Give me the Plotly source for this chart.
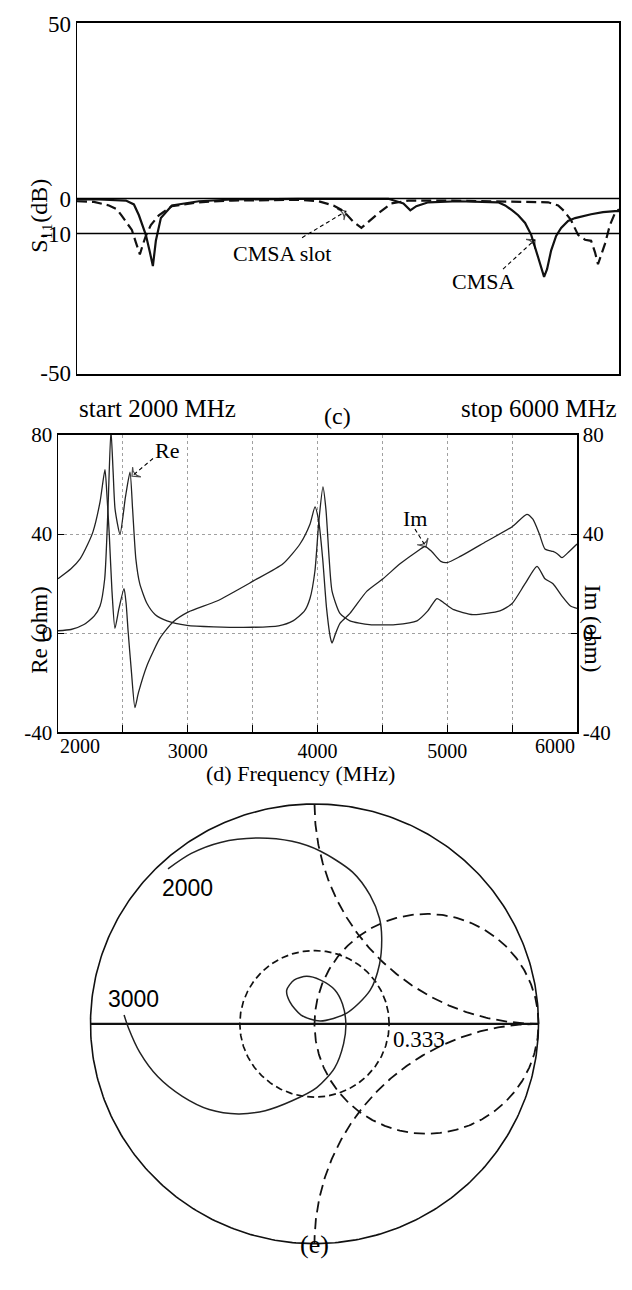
import numpy as np
import plotly.graph_objects as go

W, H = 632, 1290
SERIF = "Liberation Serif"
SANS = "Liberation Sans"

# ---------------- Panel (c): S11 (dB) vs frequency ----------------
cmsa_freq = [2000, 2162, 2361, 2420, 2457, 2508, 2538, 2560, 2582, 2619, 2700, 2899, 3142,
             3635, 4298, 4335, 4409, 4460, 4504, 4593, 4814, 5108, 5160, 5212, 5256, 5307,
             5352, 5403, 5447, 5469, 5499, 5536, 5573, 5624, 5676, 5794, 5882, 5970, 6000]
cmsa_db = [-0.3, -0.3, -0.6, -1.7, -4.8, -10.4, -15.4, -19.3, -12.1, -5.6, -2.0, -0.8, -0.3,
           -0.1, -0.1, -0.6, -1.4, -3.4, -2.2, -1.1, -0.8, -1.1, -2.0, -3.4, -4.8, -7.0,
           -10.4, -16.8, -22.4, -20.2, -14.9, -10.7, -8.4, -6.4, -5.6, -4.5, -3.9, -3.6, -3.6]

slot_freq = [2000, 2125, 2236, 2295, 2331, 2368, 2405, 2435, 2464, 2486, 2508, 2545, 2604,
             2700, 2899, 3142, 3635, 3783, 3893, 3967, 4040, 4099, 4151, 4225, 4320, 4445,
             4740, 5108, 5477, 5551, 5595, 5646, 5698, 5749, 5794, 5823, 5845, 5875, 5897,
             5933, 5970, 6000]
slot_db = [-0.8, -1.0, -2.0, -3.1, -5.0, -7.0, -9.0, -12.6, -16.0, -13.2, -10.7, -7.6, -4.8,
           -2.2, -1.1, -0.6, -0.4, -0.8, -2.0, -3.6, -6.7, -8.4, -6.7, -4.2, -1.4, -0.6,
           -0.6, -0.8, -1.1, -2.0, -3.6, -6.2, -10.4, -11.8, -12.1, -15.4, -18.8, -15.4, -12.9,
           -7.6, -4.2, -3.1]

s11_ticks = [50, 0, -10, -50]
s11_ticktext = ["50", "0", "-10", "-50"]
s11_ref_levels = [0, -10]

# ---------------- Panel (d): input impedance ----------------
re_freq = [2000, 2100, 2200, 2280, 2324, 2360, 2385, 2408, 2425, 2440, 2478, 2520, 2555,
           2575, 2600, 2630, 2686, 2750, 2840, 2994, 3200, 3500, 3700, 3811, 3900, 3942,
           3980, 4010, 4042, 4065, 4090, 4112, 4173, 4250, 4400, 4600, 4767, 4850, 4921,
           4980, 5050, 5198, 5406, 5500, 5600, 5692, 5753, 5815, 5884, 5950, 6000]
re_ohm = [1.0, 1.5, 3.5, 7, 11, 22, 50, 82, 65, 50, 40, 55, 65,
          50, 30, 20, 12, 7.5, 5, 3.2, 2.6, 2.4, 3, 5, 9, 14,
          25, 45, 59, 50, 30, 17, 8, 5, 3.5, 3.5, 5, 9, 14,
          12, 9.5, 7.5, 9, 12, 20, 27, 22, 20, 15, 11, 10]

im_freq = [2000, 2100, 2170, 2230, 2270, 2324, 2362, 2378, 2395, 2416, 2439, 2470, 2509,
           2525, 2540, 2565, 2593, 2620, 2686, 2786, 2886, 3002, 3225, 3503, 3734, 3865,
           3942, 3981, 4010, 4040, 4070, 4100, 4112, 4140, 4173, 4250, 4381, 4505, 4636,
           4767, 4828, 4880, 4950, 4998, 5100, 5300, 5500, 5614, 5660, 5710, 5753, 5815,
           5850, 5884, 5940, 6000]
im_ohm = [22, 26, 30, 36, 41, 53, 66, 55, 40, 17, 2, 10, 18,
          12, 1, -15, -30, -24, -13, -2, 4.5, 8.5, 13, 21, 28, 36,
          44, 51, 45, 30, 10, -2, -4, 0, 4, 8, 17, 22, 28,
          33, 35, 33, 29, 28.5, 31, 37, 43, 48, 46, 40, 34, 33,
          32, 30.5, 33, 36]

z_ticks = [-40, 0, 40, 80]
z_ticktext = ["-40", "0", "40", "80"]
f_major_ticks = [3000, 4000, 5000]
f_edge_labels = [2000, 6000]

# ---------------- Panel (e): Smith chart locus (reflection coefficient) ----------------
smith_re = [-0.654, -0.55, -0.42, -0.26, -0.10, 0.025, 0.17, 0.248, 0.29, 0.30, 0.29, 0.248,
            0.144, 0.025, -0.06, -0.11, -0.124, -0.09, -0.035, 0.025, 0.09, 0.125, 0.14,
            0.13, 0.09, 0.01, -0.10, -0.22, -0.34, -0.47, -0.59, -0.70, -0.78, -0.83, -0.85]
smith_im = [0.705, 0.775, 0.825, 0.845, 0.83, 0.786, 0.69, 0.585, 0.48, 0.393, 0.27, 0.152,
            0.049, 0.013, 0.04, 0.10, 0.153, 0.20, 0.216, 0.2, 0.155, 0.09, 0.0,
            -0.09, -0.20, -0.29, -0.35, -0.395, -0.41, -0.39, -0.33, -0.24, -0.13, -0.02, 0.04]
vswr_circle_label = "0.333"
vswr_radius = 1 / 3

fig = go.Figure()

# Panel (c) traces
fig.add_trace(go.Scatter(x=cmsa_freq, y=cmsa_db, mode="lines", xaxis="x", yaxis="y",
                         line=dict(color="#111", width=2.2), showlegend=False))
fig.add_trace(go.Scatter(x=slot_freq, y=slot_db, mode="lines", xaxis="x", yaxis="y",
                         line=dict(color="#111", width=2.2, dash="10px,5px"), showlegend=False))

# Panel (d) traces
fig.add_trace(go.Scatter(x=re_freq, y=re_ohm, mode="lines", xaxis="x2", yaxis="y2",
                         line=dict(color="#222", width=1.3, shape="spline", smoothing=0.6),
                         showlegend=False))
fig.add_trace(go.Scatter(x=im_freq, y=im_ohm, mode="lines", xaxis="x2", yaxis="y3",
                         line=dict(color="#222", width=1.3, shape="spline", smoothing=0.6),
                         showlegend=False))

# Panel (e) Smith chart grid (structure of the chart)
t = np.linspace(0, 2 * np.pi, 400)
def add_grid(x, y, dash=None, width=1.6):
    fig.add_trace(go.Scatter(x=x, y=y, mode="lines", xaxis="x4", yaxis="y4",
                             line=dict(color="#111", width=width, dash=dash),
                             showlegend=False, hoverinfo="skip"))
add_grid(np.cos(t), np.sin(t), None, 1.6)                                  # |Gamma| = 1
add_grid([-1, 1], [0, 0], None, 2.2)                                        # real axis
add_grid(0.5 + 0.5 * np.cos(t), 0.5 * np.sin(t), "11px,6px", 1.8)          # r = 1
ta = np.linspace(np.pi, 1.5 * np.pi, 200)
add_grid(1 + np.cos(ta), 1 + np.sin(ta), "11px,6px", 1.8)                  # x = +1
tb = np.linspace(0.5 * np.pi, np.pi, 200)
add_grid(1 + np.cos(tb), -1 + np.sin(tb), "11px,6px", 1.8)                 # x = -1
add_grid(vswr_radius * np.cos(t), vswr_radius * np.sin(t), "7px,4px", 1.7)  # |Gamma| = 1/3

fig.add_trace(go.Scatter(x=smith_re, y=smith_im, mode="lines", xaxis="x4", yaxis="y4",
                         line=dict(color="#222", width=1.5, shape="spline", smoothing=0.8),
                         showlegend=False))

# Dashed callout arrows (tail -> head), drawn as traces with an arrow marker at the head
def dashed_arrow(xa, ya, tail, head):
    fig.add_trace(go.Scatter(
        x=[tail[0], head[0]], y=[tail[1], head[1]], mode="lines+markers",
        xaxis=xa, yaxis=ya, showlegend=False, hoverinfo="skip",
        line=dict(color="black", width=1.1, dash="4px,3px"),
        marker=dict(symbol="arrow-wide-open", size=[0, 9], angleref="previous",
                    color="black", line=dict(color="black", width=1.2))))

dashed_arrow("x", "y", (3661, -11.2), (3985, -3.65))
dashed_arrow("x", "y", (5144, -20.2), (5380, -11.8))
dashed_arrow("x2", "y2", (2732, 70.5), (2570, 63.4))
dashed_arrow("x2", "y2", (4751, 42.0), (4836, 34.9))

# ---------------- Layout ----------------
def px(x):
    return x / W
def py(y):
    return 1 - y / H

axis_line = dict(showline=True, linecolor="black", linewidth=1.5, zeroline=False)
grid_style = dict(showgrid=True, gridcolor="#a0a0a0", griddash="dot", gridwidth=1)
hidden_axis = dict(showline=False, showgrid=False, zeroline=False, ticks="",
                   showticklabels=False)

# Smith chart square domain
cx, cy, rpx = 314.5, 1031.0, 224.0
rr = 1.01
half = rpx * rr

fig.update_layout(
    width=W, height=H,
    margin=dict(l=0, r=0, t=0, b=0),
    paper_bgcolor="white", plot_bgcolor="white",
    font=dict(family=SERIF, color="black", size=22),
    xaxis=dict(domain=[px(77), px(619)], range=[2000, 6000], anchor="y",
               showticklabels=False, ticks="", showgrid=False, mirror=True, **axis_line),
    yaxis=dict(domain=[py(369), py(11)], range=[-50.2, 50.2], anchor="x",
               tickvals=s11_ticks, ticktext=s11_ticktext,
               ticks="", showgrid=False, mirror=True, tickfont=dict(size=23),
               **axis_line),
    xaxis2=dict(domain=[px(58), px(577)], range=[2000, 6000], anchor="y2",
                tickvals=f_major_ticks, ticktext=[str(v) for v in f_major_ticks],
                ticks="inside", ticklen=7, tickcolor="black", mirror=True,
                tickfont=dict(size=20),
                minor=dict(tick0=2000, dtick=500, ticks="inside", ticklen=7,
                           tickcolor="black", **grid_style),
                **grid_style, **axis_line),
    yaxis2=dict(domain=[py(734), py(431)], range=[-40, 80], anchor="x2",
                tickvals=z_ticks, ticktext=z_ticktext, ticks="inside", ticklen=6,
                tickcolor="black", tickfont=dict(size=21), **grid_style, **axis_line),
    yaxis3=dict(overlaying="y2", side="right", range=[-40, 80], anchor="x2",
                tickvals=z_ticks, ticktext=z_ticktext, ticks="inside", ticklen=6,
                tickcolor="black", showgrid=False, tickfont=dict(size=21), **axis_line),
    xaxis4=dict(domain=[px(cx - half), px(cx + half)], range=[-rr, rr], anchor="y4",
                **hidden_axis),
    yaxis4=dict(domain=[py(cy + half), py(cy - half)], range=[-rr, rr], anchor="x4",
                **hidden_axis),
)

# Reference lines at 0 and -10 dB
for lvl in s11_ref_levels:
    fig.add_shape(type="line", xref="x domain", yref="y", x0=0, x1=1, y0=lvl, y1=lvl,
                  line=dict(color="black", width=1.6))

ann = []
# Panel (c) texts
ann.append(dict(text="S\u2081\u2081(dB)", x=px(24), y=py(168), xref="paper", yref="paper",
                textangle=-90, font=dict(size=24), showarrow=False))
ann.append(dict(text="start 2000 MHz", x=px(77), y=py(388), xref="paper", yref="paper",
                xanchor="left", font=dict(size=25), showarrow=False))
ann.append(dict(text="(c)", x=px(337), y=py(396), xref="paper", yref="paper",
                font=dict(size=24), showarrow=False))
ann.append(dict(text="stop 6000 MHz", x=px(619), y=py(388), xref="paper", yref="paper",
                xanchor="right", font=dict(size=25), showarrow=False))
ann.append(dict(text="CMSA slot", x=3513, y=-15.6, xref="x", yref="y",
                font=dict(size=22), showarrow=False))
ann.append(dict(text="CMSA", x=4993, y=-23.8, xref="x", yref="y",
                font=dict(size=22), showarrow=False))
# Panel (d) texts
ann.append(dict(text="Re (ohm)", x=px(25), y=py(630), xref="paper", yref="paper",
                textangle=-90, font=dict(size=23), showarrow=False))
ann.append(dict(text="Im (ohm)", x=px(607), y=py(628), xref="paper", yref="paper",
                textangle=90, font=dict(size=23), showarrow=False))
ann.append(dict(text="(d) Frequency (MHz)", x=px(300), y=py(776), xref="paper",
                yref="paper", font=dict(size=22), showarrow=False))
ann.append(dict(text=str(f_edge_labels[0]), x=f_edge_labels[0], y=-40, xref="x2", yref="y2",
                xanchor="left", yanchor="top", yshift=-1, font=dict(size=20),
                showarrow=False))
ann.append(dict(text=str(f_edge_labels[1]), x=f_edge_labels[1], y=-40, xref="x2", yref="y2",
                xanchor="right", yanchor="top", yshift=-1, font=dict(size=20),
                showarrow=False))
ann.append(dict(text="Re", x=2840, y=73.7, xref="x2", yref="y2",
                font=dict(size=22), showarrow=False))
ann.append(dict(text="Im", x=4751, y=46.3, xref="x2", yref="y2",
                font=dict(size=22), showarrow=False))
# Panel (e) texts
ann.append(dict(text="2000", x=-0.567, y=0.616, xref="x4", yref="y4",
                font=dict(family=SANS, size=23), showarrow=False))
ann.append(dict(text="3000", x=-0.809, y=0.114, xref="x4", yref="y4",
                font=dict(family=SANS, size=23), showarrow=False))
ann.append(dict(text=vswr_circle_label, x=0.342, y=-0.072, xref="x4", yref="y4",
                xanchor="left", font=dict(size=23), showarrow=False))
ann.append(dict(text="(e)", x=px(314), y=py(1273), xref="paper", yref="paper",
                font=dict(size=26), showarrow=False))
for a in ann:
    fig.add_annotation(**a)

fig.write_html(
    "out.html",
    config={"displayModeBar": False, "staticPlot": True},
    post_script="document.body.style.margin='0px';document.body.style.overflow='hidden';",
)
